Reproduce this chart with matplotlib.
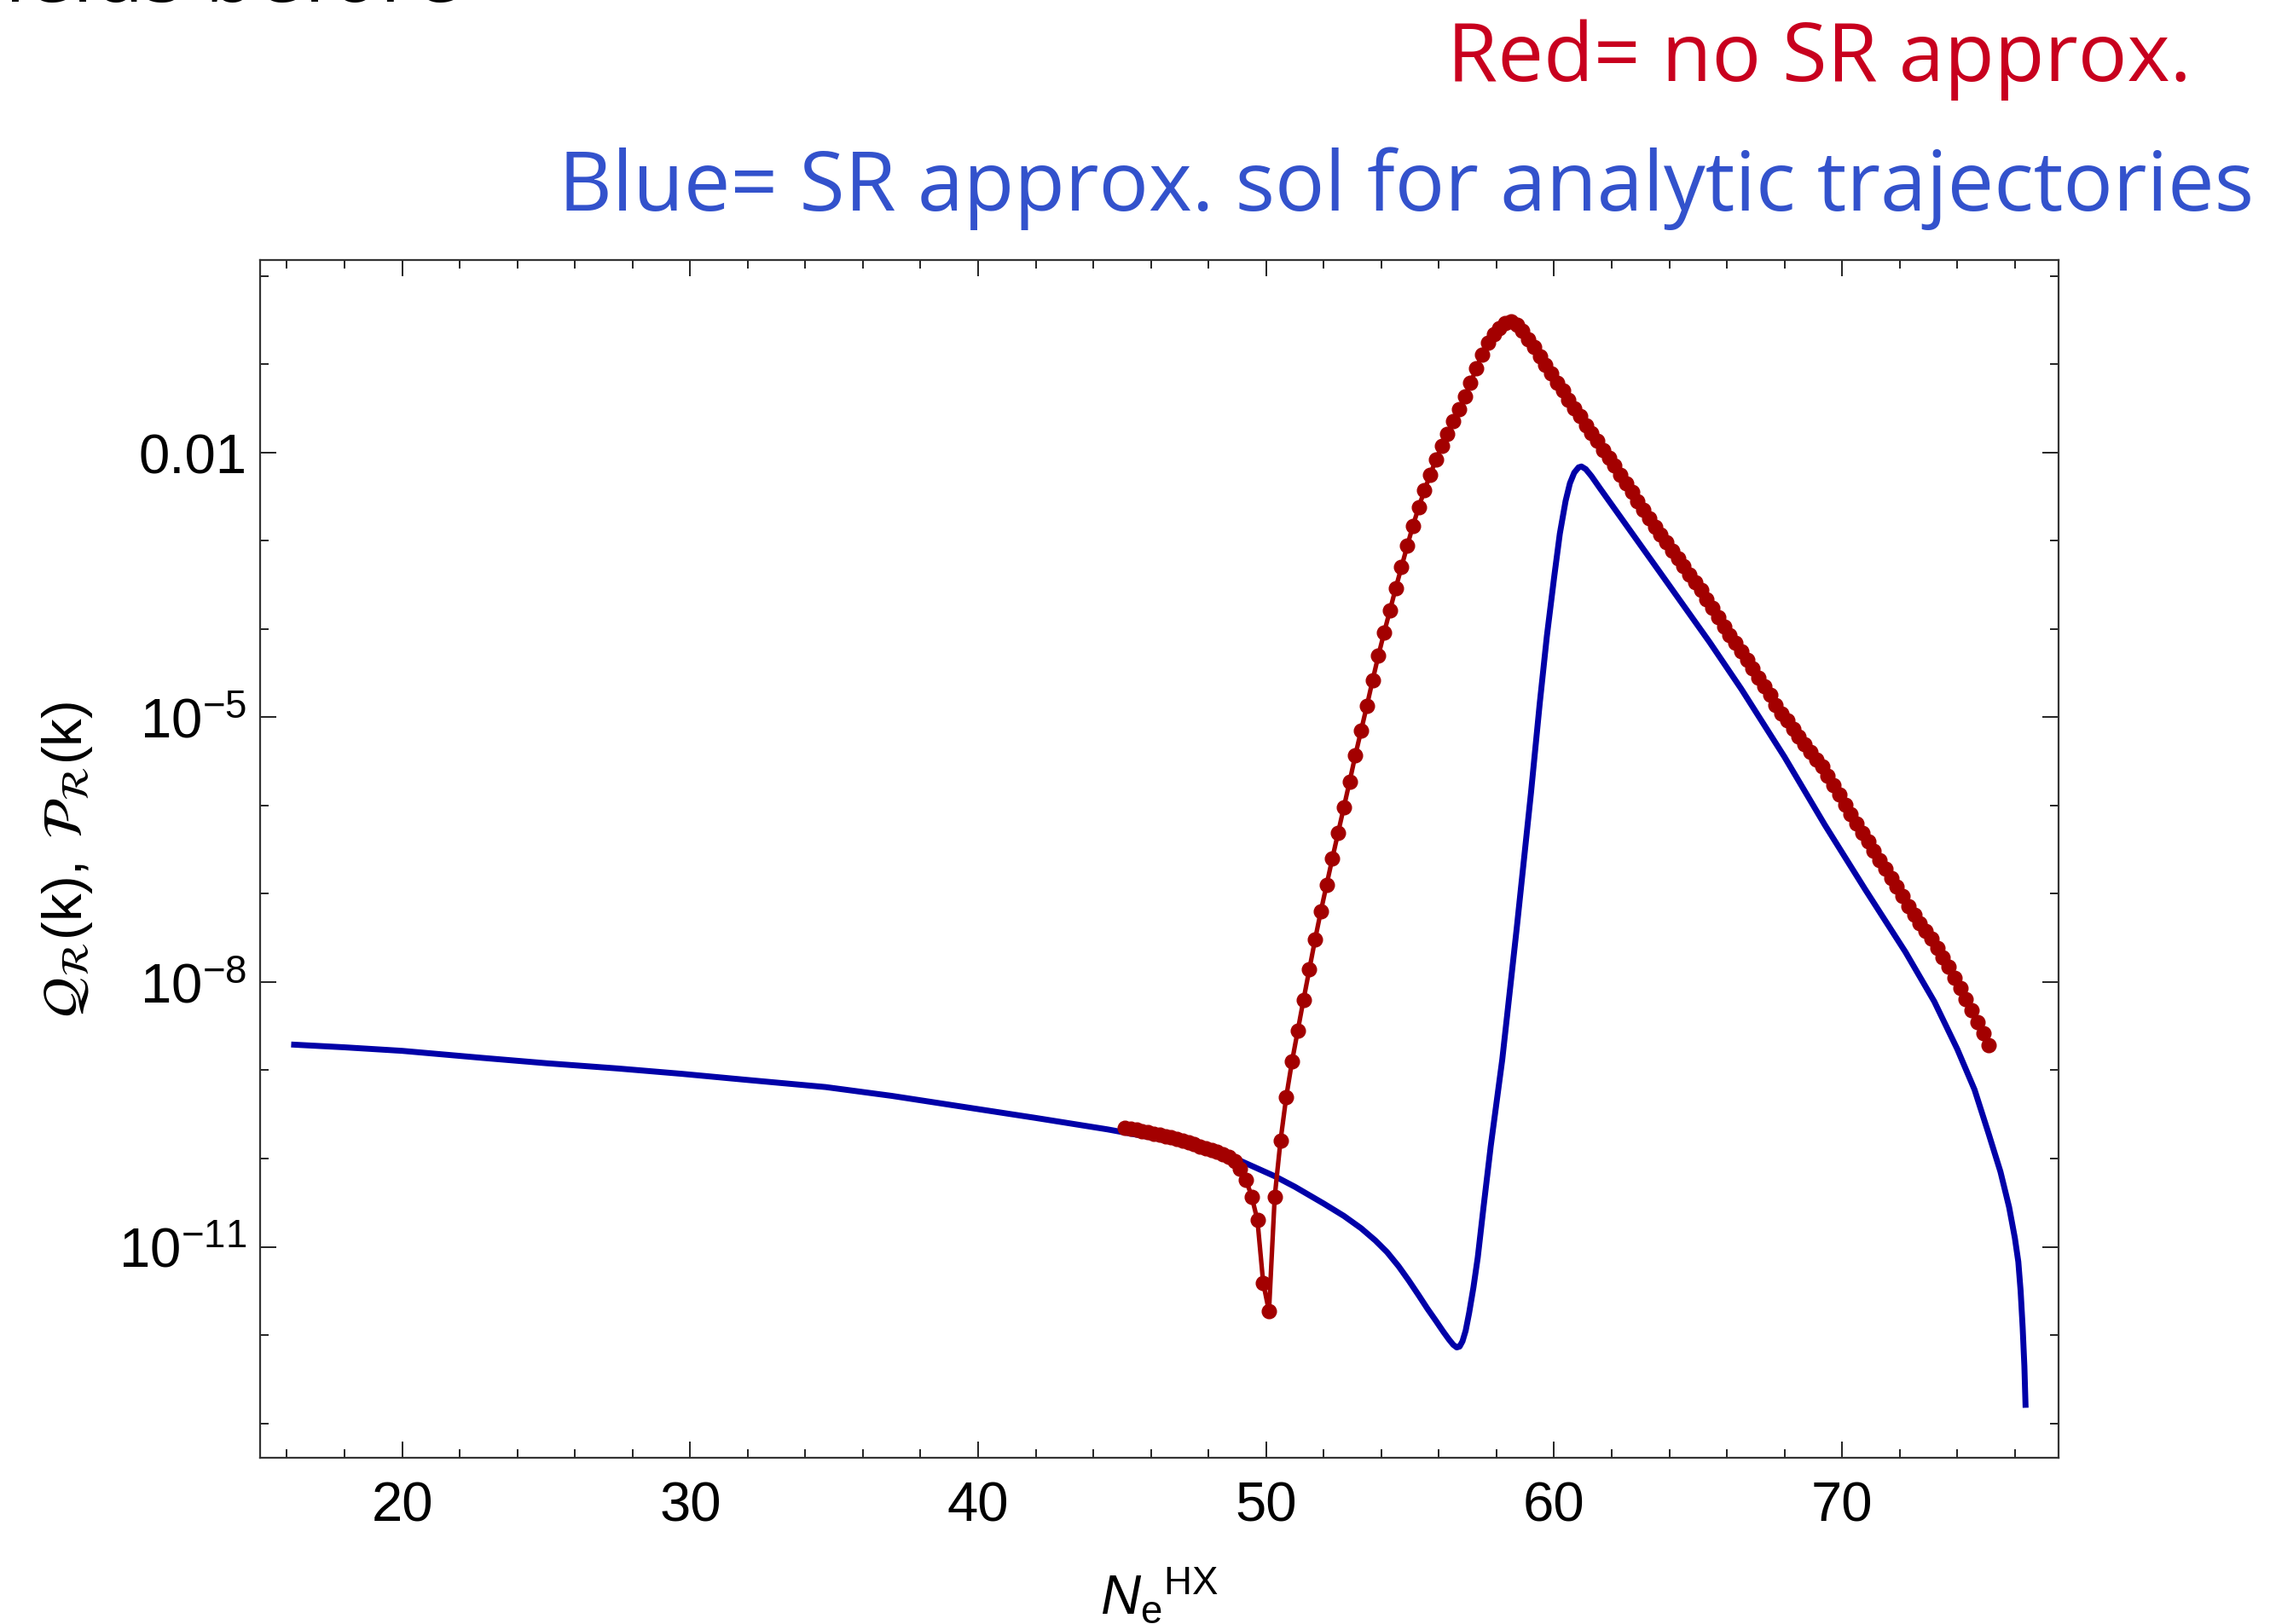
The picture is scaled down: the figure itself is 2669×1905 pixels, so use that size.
import numpy as np
import matplotlib
matplotlib.use("Agg")
import matplotlib.pyplot as plt
from matplotlib.ticker import FixedLocator, FixedFormatter, NullFormatter

plt.rcParams['font.family'] = ['Liberation Sans', 'DejaVu Sans']
plt.rcParams['mathtext.fontset'] = 'custom'
plt.rcParams['mathtext.rm'] = 'Liberation Sans'
plt.rcParams['mathtext.it'] = 'Liberation Sans:italic'
plt.rcParams['mathtext.bf'] = 'Liberation Sans:bold'

# blue: SR approx. solution (N_e, log10 of power spectrum)
blue_n = [16.25, 18.0, 20.0, 22.8, 25.0, 27.5, 29.7, 32.0, 34.7, 37.0, 39.6, 42.0,
          44.5, 46.0, 47.0, 48.0, 49.0, 50.3, 51.0, 52.0, 52.7, 53.3, 53.8, 54.2,
          54.6, 54.95, 55.3, 55.6, 55.9, 56.15, 56.35, 56.5, 56.62, 56.72, 56.82,
          56.93, 57.05, 57.2, 57.35, 57.55, 57.8, 58.2, 58.7, 59.2, 59.5, 59.75,
          60.0, 60.2, 60.4, 60.55, 60.7, 60.85, 60.95, 61.1, 61.3, 61.6, 62.3,
          63.7, 65.4, 66.5, 68.0, 69.4, 70.8, 72.2, 73.2, 74.0, 74.6, 75.1, 75.5,
          75.8, 76.0, 76.12, 76.2, 76.27, 76.33, 76.37]
blue_log = [-8.71, -8.74, -8.78, -8.86, -8.92, -8.98, -9.04, -9.11, -9.19, -9.29, -9.42, -9.54,
            -9.67, -9.76, -9.83, -9.91, -10.01, -10.20, -10.32, -10.51, -10.65, -10.79, -10.93, -11.06,
            -11.22, -11.38, -11.55, -11.70, -11.84, -11.96, -12.05, -12.11, -12.14, -12.13, -12.07,
            -11.95, -11.75, -11.46, -11.12, -10.55, -9.86, -8.88, -7.40, -5.85, -4.85, -4.08,
            -3.42, -2.92, -2.55, -2.35, -2.23, -2.17, -2.16, -2.19, -2.27, -2.41, -2.73,
            -3.37, -4.15, -4.68, -5.45, -6.22, -6.95, -7.66, -8.22, -8.76, -9.22, -9.73, -10.15,
            -10.55, -10.90, -11.17, -11.50, -11.91, -12.35, -12.79]

# red: no SR approx. (numerical points)
red_n = [45.1, 45.3, 45.5, 45.7, 45.9, 46.1, 46.3, 46.5, 46.7, 46.9,
         47.1, 47.3, 47.5, 47.7, 47.9, 48.1, 48.3, 48.5, 48.7, 48.9,
         49.1, 49.3, 49.5, 49.7, 49.9, 50.1, 50.3, 50.5, 50.7, 50.9,
         51.1, 51.3, 51.5, 51.7, 51.9, 52.1, 52.3, 52.5, 52.7, 52.9,
         53.1, 53.3, 53.5, 53.7, 53.9, 54.1, 54.3, 54.5, 54.7, 54.9,
         55.1, 55.3, 55.5, 55.7, 55.9, 56.1, 56.3, 56.5, 56.7, 56.9,
         57.1, 57.3, 57.5, 57.7, 57.9, 58.1, 58.3, 58.5, 58.7, 58.9,
         59.1, 59.3, 59.5, 59.7, 59.9, 60.1, 60.3, 60.5, 60.7, 60.9,
         61.1, 61.3, 61.5, 61.7, 61.9, 62.1, 62.3, 62.5, 62.7, 62.9,
         63.1, 63.3, 63.5, 63.7, 63.9, 64.1, 64.3, 64.5, 64.7, 64.9,
         65.1, 65.3, 65.5, 65.7, 65.9, 66.1, 66.3, 66.5, 66.7, 66.9,
         67.1, 67.3, 67.5, 67.7, 67.9, 68.1, 68.3, 68.5, 68.7, 68.9,
         69.1, 69.3, 69.5, 69.7, 69.9, 70.1, 70.3, 70.5, 70.7, 70.9,
         71.1, 71.3, 71.5, 71.7, 71.9, 72.1, 72.3, 72.5, 72.7, 72.9,
         73.1, 73.3, 73.5, 73.7, 73.9, 74.1, 74.3, 74.5, 74.7, 74.9,
         75.1]
red_log = [-9.65, -9.66, -9.67, -9.69, -9.70, -9.72, -9.73, -9.75, -9.76, -9.78,
           -9.80, -9.82, -9.84, -9.86, -9.88, -9.90, -9.92, -9.95, -9.98, -10.03,
           -10.12, -10.24, -10.43, -10.70, -11.41, -11.73, -10.43, -9.80, -9.30, -8.90,
           -8.55, -8.20, -7.86, -7.52, -7.20, -6.90, -6.60, -6.31, -6.02, -5.73,
           -5.43, -5.15, -4.87, -4.58, -4.30, -4.04, -3.79, -3.54, -3.30, -3.06,
           -2.83, -2.62, -2.43, -2.25, -2.08, -1.93, -1.79, -1.65, -1.51, -1.37,
           -1.21, -1.05, -0.89, -0.76, -0.66, -0.59, -0.54, -0.52, -0.55, -0.62,
           -0.72, -0.81, -0.91, -1.01, -1.11, -1.21, -1.30, -1.40, -1.50, -1.59,
           -1.69, -1.78, -1.87, -1.97, -2.06, -2.15, -2.25, -2.35, -2.45, -2.55,
           -2.65, -2.75, -2.84, -2.93, -3.02, -3.11, -3.20, -3.29, -3.38, -3.47,
           -3.56, -3.66, -3.76, -3.87, -3.97, -4.07, -4.16, -4.25, -4.35, -4.45,
           -4.55, -4.65, -4.75, -4.86, -4.96, -5.04, -5.13, -5.22, -5.31, -5.39,
           -5.48, -5.56, -5.66, -5.77, -5.88, -5.99, -6.10, -6.20, -6.31, -6.41,
           -6.51, -6.62, -6.72, -6.82, -6.92, -7.03, -7.14, -7.24, -7.33, -7.42,
           -7.51, -7.61, -7.72, -7.83, -7.95, -8.07, -8.19, -8.32, -8.45, -8.58,
           -8.72]

x_major = [20, 30, 40, 50, 60, 70]
x_minor = [16, 18, 22, 24, 26, 28, 32, 34, 36, 38, 42, 44, 46, 48,
           52, 54, 56, 58, 62, 64, 66, 68, 72, 74, 76]
y_major_exp = [-2, -5, -8, -11]
y_major_labels = ['0.01', r'$10^{-5}$', r'$10^{-8}$', r'$10^{-11}$']
y_minor_exp = [0, -1, -3, -4, -6, -7, -9, -10, -12, -13]

fig = plt.figure(figsize=(26.69, 19.06), dpi=100)
ax = fig.add_axes([0.1143, 0.1023, 0.7902, 0.7372])

ax.plot(blue_n, 10.0 ** np.array(blue_log), color='#0000a8', lw=5.0, zorder=2)
ax.plot(red_n, 10.0 ** np.array(red_log), color='#a30000', lw=3.8,
        marker='o', ms=12, zorder=3)

ax.set_yscale('log')
ax.set_xlim(15.07, 77.52)
ax.set_ylim(10 ** -13.39, 10 ** 0.18)

ax.xaxis.set_major_locator(FixedLocator(x_major))
ax.xaxis.set_minor_locator(FixedLocator(x_minor))
ax.yaxis.set_major_locator(FixedLocator([10.0 ** e for e in y_major_exp]))
ax.yaxis.set_major_formatter(FixedFormatter(y_major_labels))
ax.yaxis.set_minor_locator(FixedLocator([10.0 ** e for e in y_minor_exp]))
ax.yaxis.set_minor_formatter(NullFormatter())

ax.tick_params(which='both', direction='in', top=True, right=True, color='#111111')
ax.tick_params(which='major', length=14, width=1.3, labelsize=47)
ax.tick_params(which='minor', length=7, width=1.3)
ax.tick_params(axis='x', pad=19)
ax.tick_params(axis='y', pad=11)
for s in ax.spines.values():
    s.set_linewidth(1.6)
    s.set_color('#333333')

ax.set_xlabel(r'$N_{\mathrm{e}}{}^{\mathrm{HX}}$', fontsize=47)
ax.xaxis.set_label_coords(0.5, -0.13)
ax.xaxis.label.set_va('baseline')
ax.set_ylabel(r'$\mathcal{Q}_{\mathcal{R}}\mathregular{(k),}\ \mathcal{P}_{\mathcal{R}}\mathregular{(k)}$',
              fontsize=47, math_fontfamily='stix')
ax.yaxis.set_label_coords(-0.107, 0.5)
ax.yaxis.label.set_va('center')

# slide text around the plot
fig.text(0.2023, 0.9987, 'fields before', fontsize=70, family='Open Sans',
         color='black', ha='right', va='baseline')
fig.text(0.6358, 0.950, 'Red= no SR approx.', fontsize=69, family='Open Sans',
         color='#c8001e', ha='left', va='baseline')
fig.text(0.2454, 0.8704, 'Blue= SR approx. sol for analytic trajectories', fontsize=70,
         family='Open Sans', color='#3352cc', ha='left', va='baseline')

fig.savefig('out.png', dpi=100)
